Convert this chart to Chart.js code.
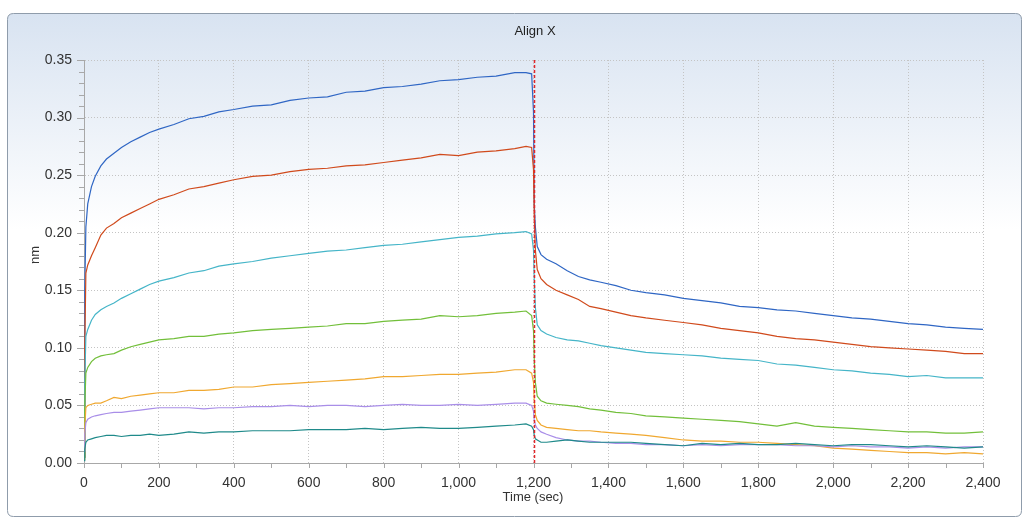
<!DOCTYPE html>
<html>
<head>
<meta charset="utf-8">
<script src="https://cdn.jsdelivr.net/npm/chart.js@4/dist/chart.umd.min.js"></script>
<style>
html,body{margin:0;padding:0;background:#fff;}
#wrap{width:1025px;height:519px;position:relative;}
</style>
</head>
<body>
<div id="wrap"><canvas id="c" width="1025" height="519"></canvas></div>
<script>
// ---- data ----
const chartTitle = "Align X";
const xTitle = "Time (sec)";
const yTitle = "nm";
const yTicks = [0, 0.05, 0.10, 0.15, 0.20, 0.25, 0.30, 0.35];
const xTicks = [0, 200, 400, 600, 800, 1000, 1200, 1400, 1600, 1800, 2000, 2200, 2400];
const stepTime = 1200;

const times = [0,2,5,10,20,30,45,60,80,100,125,150,175,200,240,280,320,360,400,450,500,550,600,650,700,750,800,850,900,950,1000,1050,1100,1150,1180,1195,
  1200,1202,1205,1210,1220,1235,1260,1290,1320,1350,1380,1420,1460,1500,1550,1600,1650,1700,1750,1800,1850,1900,1950,2000,2050,2100,2150,2200,2250,2300,2350,2400];

const sBlue = [0.005,0.150,0.205,0.225,0.240,0.249,0.258,0.264,0.269,0.274,0.279,0.283,0.287,0.290,0.294,0.299,0.301,0.305,0.307,0.310,0.311,0.315,0.317,0.318,0.322,0.323,0.326,0.327,0.329,0.332,0.333,0.335,0.336,0.339,0.339,0.338,
  0.305,0.225,0.205,0.188,0.181,0.177,0.173,0.167,0.162,0.159,0.157,0.154,0.150,0.148,0.146,0.143,0.141,0.139,0.136,0.135,0.133,0.132,0.130,0.128,0.126,0.125,0.123,0.121,0.120,0.118,0.117,0.116];
const sRed = [0.005,0.100,0.165,0.172,0.180,0.187,0.198,0.204,0.208,0.213,0.217,0.221,0.225,0.229,0.233,0.238,0.240,0.243,0.246,0.249,0.250,0.253,0.255,0.256,0.258,0.259,0.261,0.263,0.265,0.268,0.267,0.270,0.271,0.273,0.275,0.274,
  0.255,0.215,0.185,0.168,0.160,0.155,0.150,0.146,0.142,0.136,0.134,0.131,0.128,0.126,0.124,0.122,0.120,0.117,0.115,0.113,0.110,0.108,0.107,0.105,0.103,0.101,0.100,0.099,0.098,0.097,0.095,0.095];
const sCyan = [0.005,0.070,0.110,0.116,0.124,0.129,0.133,0.136,0.139,0.143,0.147,0.151,0.155,0.158,0.161,0.165,0.167,0.171,0.173,0.175,0.178,0.180,0.182,0.184,0.185,0.187,0.189,0.190,0.192,0.194,0.196,0.197,0.199,0.200,0.201,0.199,
  0.185,0.160,0.135,0.120,0.115,0.112,0.109,0.107,0.106,0.104,0.102,0.100,0.098,0.096,0.095,0.094,0.093,0.091,0.090,0.089,0.086,0.085,0.083,0.081,0.080,0.078,0.077,0.075,0.076,0.074,0.074,0.074];
const sGreen = [0.005,0.050,0.078,0.083,0.088,0.091,0.093,0.094,0.095,0.098,0.101,0.103,0.105,0.107,0.108,0.110,0.110,0.112,0.113,0.115,0.116,0.117,0.118,0.119,0.121,0.121,0.123,0.124,0.125,0.128,0.127,0.128,0.130,0.131,0.132,0.128,
  0.115,0.090,0.070,0.058,0.054,0.052,0.051,0.050,0.049,0.047,0.046,0.044,0.043,0.041,0.040,0.039,0.038,0.037,0.036,0.034,0.032,0.035,0.032,0.031,0.030,0.029,0.028,0.027,0.027,0.026,0.026,0.027];
const sOrange = [0.003,0.030,0.048,0.050,0.051,0.052,0.052,0.054,0.057,0.056,0.058,0.059,0.060,0.061,0.061,0.063,0.063,0.064,0.066,0.066,0.068,0.069,0.070,0.071,0.072,0.073,0.075,0.075,0.076,0.077,0.077,0.078,0.079,0.081,0.081,0.078,
  0.070,0.055,0.042,0.037,0.033,0.031,0.030,0.029,0.028,0.028,0.027,0.026,0.025,0.024,0.022,0.020,0.019,0.019,0.018,0.018,0.017,0.016,0.015,0.013,0.012,0.011,0.010,0.009,0.009,0.008,0.009,0.008];
const sLavender = [0.010,0.025,0.035,0.038,0.040,0.041,0.042,0.043,0.044,0.044,0.045,0.046,0.047,0.048,0.048,0.048,0.047,0.048,0.048,0.049,0.049,0.050,0.049,0.050,0.050,0.049,0.050,0.051,0.050,0.050,0.051,0.050,0.051,0.052,0.052,0.050,
  0.045,0.037,0.033,0.030,0.027,0.025,0.022,0.020,0.019,0.019,0.018,0.017,0.017,0.016,0.016,0.015,0.016,0.015,0.016,0.016,0.016,0.015,0.015,0.014,0.015,0.014,0.014,0.013,0.014,0.013,0.014,0.014];
const sTeal = [0.002,0.012,0.018,0.020,0.021,0.022,0.023,0.024,0.024,0.023,0.024,0.024,0.025,0.024,0.025,0.027,0.026,0.027,0.027,0.028,0.028,0.028,0.029,0.029,0.029,0.030,0.029,0.030,0.031,0.030,0.030,0.031,0.032,0.033,0.034,0.032,
  0.029,0.024,0.021,0.020,0.018,0.018,0.019,0.020,0.019,0.018,0.018,0.018,0.018,0.017,0.016,0.015,0.017,0.016,0.017,0.016,0.016,0.017,0.016,0.015,0.016,0.016,0.015,0.014,0.015,0.014,0.013,0.014];

const seriesList = [sBlue, sRed, sCyan, sGreen, sOrange, sLavender, sTeal];
const seriesColors = ['#2f66c4','#d04a1c','#45b5c8','#72bf3a','#f0a830','#a98ee8','#1f8a8a'];

// ---- chart ----
const FONT = "'Liberation Sans', Arial, sans-serif";
const datasets = seriesList.map((s, i) => ({
  data: s.map((v, k) => ({x: times[k], y: v})),
  borderColor: seriesColors[i],
  borderWidth: 1.2,
  pointRadius: 0,
  tension: 0,
  fill: false
})).reverse();

const panelPlugin = {
  id: 'panel',
  beforeDraw(chart) {
    const ctx = chart.ctx;
    ctx.save();
    ctx.fillStyle = '#ffffff';
    ctx.fillRect(0, 0, chart.width, chart.height);
    const x0 = 7.5, y0 = 13.5, x1 = 1021.5, y1 = 516.5, r = 6;
    ctx.beginPath();
    ctx.moveTo(x0 + r, y0);
    ctx.lineTo(x1 - r, y0); ctx.quadraticCurveTo(x1, y0, x1, y0 + r);
    ctx.lineTo(x1, y1 - r); ctx.quadraticCurveTo(x1, y1, x1 - r, y1);
    ctx.lineTo(x0 + r, y1); ctx.quadraticCurveTo(x0, y1, x0, y1 - r);
    ctx.lineTo(x0, y0 + r); ctx.quadraticCurveTo(x0, y0, x0 + r, y0);
    ctx.closePath();
    const g = ctx.createLinearGradient(0, y0, 0, 230);
    g.addColorStop(0, '#d8e3f1');
    g.addColorStop(1, '#ffffff');
    ctx.fillStyle = g;
    ctx.fill();
    ctx.strokeStyle = '#8f9cab';
    ctx.lineWidth = 1;
    ctx.stroke();
    // title
    ctx.fillStyle = '#222';
    ctx.font = '13px ' + FONT;
    ctx.textAlign = 'center';
    ctx.textBaseline = 'middle';
    ctx.fillText(chartTitle, 535, 31);
    // axis titles
    ctx.fillStyle = '#333';
    ctx.fillText(xTitle, 533, 497);
    ctx.save();
    ctx.translate(35, 255);
    ctx.rotate(-Math.PI / 2);
    ctx.font = '13px ' + FONT;
    ctx.fillText(yTitle, 0, 0);
    ctx.restore();
    ctx.restore();
  },
  afterDraw(chart) {
    const ctx = chart.ctx;
    const xs = chart.scales.x, ys = chart.scales.y;
    const a = chart.chartArea;
    ctx.save();
    ctx.strokeStyle = '#a8a8a8';
    ctx.lineWidth = 1;
    for (let k = 0; k <= 35; k++) {
      const py = Math.round(ys.getPixelForValue(k / 100)) + 0.5;
      const len = (k % 5 === 0) ? 7 : 5;
      ctx.beginPath(); ctx.moveTo(a.left - len, py); ctx.lineTo(a.left, py); ctx.stroke();
    }
    for (let k = 0; k <= 24; k++) {
      const px = Math.round(xs.getPixelForValue(k * 100)) + 0.5;
      ctx.beginPath(); ctx.moveTo(px, a.bottom); ctx.lineTo(px, a.bottom + 5); ctx.stroke();
    }
    const sx = Math.round(xs.getPixelForValue(stepTime)) + 0.5;
    ctx.strokeStyle = '#e0262a';
    ctx.lineWidth = 1.5;
    ctx.setLineDash([3, 2]);
    ctx.beginPath(); ctx.moveTo(sx, a.top); ctx.lineTo(sx, a.bottom); ctx.stroke();
    ctx.restore();
  }
};

new Chart(document.getElementById('c'), {
  type: 'line',
  data: { datasets },
  options: {
    responsive: false,
    animation: false,
    layout: { padding: { top: 60, right: 42, left: 0, bottom: 0 } },
    plugins: { legend: { display: false }, tooltip: { enabled: false } },
    scales: {
      x: {
        type: 'linear', min: 0, max: 2400,
        afterBuildTicks(s) { s.ticks = xTicks.map(v => ({value: v})); },
        afterFit(s) { s.height = 56; },
        ticks: { color: '#333', font: { family: FONT, size: 14 }, padding: 12, maxRotation: 0,
          callback: v => v.toLocaleString('en-US') },
        grid: { color: '#c4c4c4', drawTicks: false, lineWidth: 1 },
        border: { display: true, color: '#a8a8a8', dash: [1, 2] }
      },
      y: {
        type: 'linear', min: 0, max: 0.35,
        afterBuildTicks(s) { s.ticks = yTicks.map(v => ({value: v})); },
        afterFit(s) { s.width = 84; },
        ticks: { color: '#333', font: { family: FONT, size: 14 }, padding: 12,
          callback: v => v.toFixed(2) },
        grid: { color: '#c4c4c4', drawTicks: false, lineWidth: 1 },
        border: { display: true, color: '#a8a8a8', dash: [1, 2] }
      }
    }
  },
  plugins: [panelPlugin]
});
</script>
</body>
</html>
